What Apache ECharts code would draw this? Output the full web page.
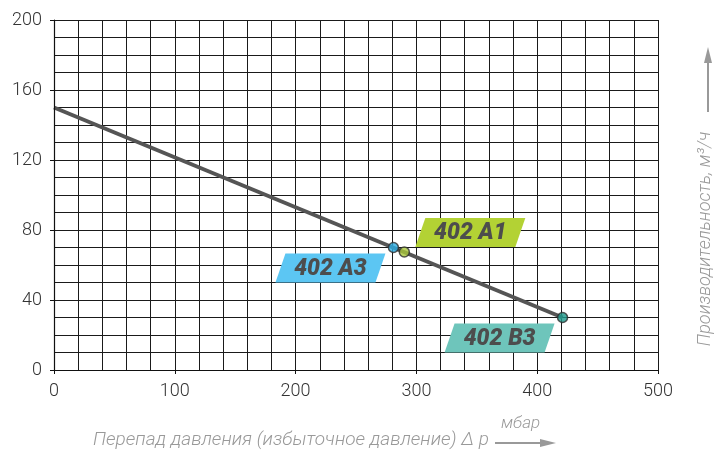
<!DOCTYPE html>
<html>
<head>
<meta charset="utf-8">
<script src="https://cdn.jsdelivr.net/npm/echarts@6/dist/echarts.min.js"></script>
<style>
html,body{margin:0;padding:0;background:#fff;}
#c{width:714px;height:452px;}
</style>
</head>
<body>
<div id="c"></div>
<script>
// ---- data ----
var lineX = [0, 421];
var lineY = [150, 30];
var pointNames = ['402 A3', '402 A1', '402 B3'];
var pointX = [281, 290, 421];
var pointY = [70, 67.4, 30];
var xTicks = [0, 100, 200, 300, 400, 500];
var yTicks = [0, 40, 80, 120, 160, 200];

// ---- styles ----
var pointColors = ['#29abe2', '#a8c639', '#1b988b'];
var tagColors = ['#5cc6f3', '#b3d234', '#6ec5bb'];
var tagOffsets = [[-63, 20.5], [66, -19.5], [-63, 20.5]];

var chart = echarts.init(document.getElementById('c'), null, {renderer: 'canvas'});

var lineData = lineX.map(function (x, i) { return [x, lineY[i]]; });
var pointData = pointX.map(function (x, i) {
  return {value: [x, pointY[i]], itemStyle: {color: pointColors[i]}};
});
var tagData = pointX.map(function (x, i) { return [x, pointY[i], i]; });

var tickFont = {fontFamily: 'Roboto, "Liberation Sans", sans-serif', fontWeight: 300, fontSize: 18, color: '#333'};
var gridLine = {show: true, lineStyle: {color: '#1a1a1a', width: 1}};
var titleFont = 'italic 300 19px Roboto, "Liberation Sans", sans-serif';

chart.setOption({
  animation: false,
  backgroundColor: '#fff',
  grid: {left: 54, right: 56, top: 20, bottom: 82, containLabel: false},
  xAxis: [
    {
      type: 'value', min: xTicks[0], max: xTicks[xTicks.length - 1], interval: 100,
      axisLine: {show: true, lineStyle: {color: '#111', width: 1.2}},
      axisTick: {show: true, length: 4, lineStyle: {color: '#111'}},
      axisLabel: Object.assign({margin: 12}, tickFont),
      splitLine: {show: false}, z: 5
    },
    {
      type: 'value', min: 0, max: 500, interval: 20,
      axisLine: {show: false}, axisTick: {show: false}, axisLabel: {show: false},
      splitLine: gridLine
    }
  ],
  yAxis: [
    {
      type: 'value', min: yTicks[0], max: yTicks[yTicks.length - 1], interval: 40,
      axisLine: {show: true, lineStyle: {color: '#111', width: 1.2}},
      axisTick: {show: true, length: 4, lineStyle: {color: '#111'}},
      axisLabel: Object.assign({margin: 12}, tickFont),
      splitLine: {show: false}, z: 5
    },
    {
      type: 'value', min: 0, max: 200, interval: 10, position: 'left',
      axisLine: {show: false}, axisTick: {show: false}, axisLabel: {show: false},
      splitLine: gridLine
    }
  ],
  series: [
    {
      type: 'custom', xAxisIndex: 0, yAxisIndex: 0, z: 3,
      data: tagData,
      renderItem: function (params, api) {
        var p = api.coord([api.value(0), api.value(1)]);
        var i = api.value(2);
        var cx = p[0] + tagOffsets[i][0], cy = p[1] + tagOffsets[i][1];
        var w = 100, h = 29, sk = 10;
        var l = cx - w / 2 - sk / 2, t = cy - h / 2;
        return {
          type: 'group',
          children: [
            {
              type: 'polygon',
              shape: {points: [[l + sk, t], [l + sk + w, t], [l + w, t + h], [l, t + h]]},
              style: {fill: tagColors[i]}
            },
            {
              type: 'text',
              style: {
                x: cx, y: cy + 1, text: pointNames[i], align: 'center', verticalAlign: 'middle',
                fill: '#4d4d4d', font: 'italic 900 23px Roboto, "Liberation Sans", Arial, sans-serif'
              }
            }
          ]
        };
      }
    },
    {
      type: 'line', xAxisIndex: 0, yAxisIndex: 0, z: 4,
      data: lineData, symbol: 'none',
      lineStyle: {color: '#555', width: 4}
    },
    {
      type: 'scatter', xAxisIndex: 0, yAxisIndex: 0, z: 6,
      data: pointData, symbolSize: 10,
      itemStyle: {borderColor: '#2e2e2e', borderWidth: 1.5}
    }
  ],
  graphic: [
    {
      type: 'text', left: 93, top: 431,
      style: {text: 'Перепад давления (избыточное давление) Δ р', fill: '#999', font: titleFont}
    },
    {
      type: 'text', left: 501, top: 415,
      style: {text: 'мбар', fill: '#999', font: 'italic 300 17px Roboto, "Liberation Sans", sans-serif'}
    },
    {type: 'line', shape: {x1: 495, y1: 443, x2: 545, y2: 443}, style: {stroke: '#999', lineWidth: 2}},
    {type: 'polygon', shape: {points: [[540, 439], [556, 443], [540, 447]]}, style: {fill: '#999'}},
    {
      type: 'text', x: 705, y: 239, rotation: Math.PI / 2,
      style: {text: 'Производительность, м³/ч', fill: '#999', align: 'center', verticalAlign: 'middle',
        font: 'italic 300 18px Roboto, "Liberation Sans", sans-serif'}
    },
    {type: 'line', shape: {x1: 708, y1: 112, x2: 708, y2: 58}, style: {stroke: '#999', lineWidth: 2}},
    {type: 'polygon', shape: {points: [[704, 63], [708, 47], [712, 63]]}, style: {fill: '#999'}}
  ]
});
</script>
</body>
</html>
